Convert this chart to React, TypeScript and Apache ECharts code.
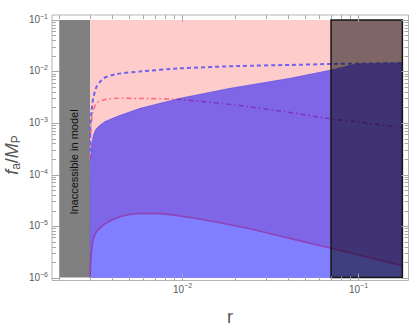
import React, { useEffect, useRef } from 'react';
import * as echarts from 'echarts';

// ---- Regions (r on x, f_a/M_P on y) ----
const inaccessibleR = [0.002, 0.003];
const boxR = [0.07, 0.178];
const modelR = [0.003, 0.178];
const fBottom = 1e-6;
const fTop = 0.1;

// Upper boundary of the blue (allowed) region
const upperR = [0.003, 0.003, 0.00301, 0.00305, 0.00313, 0.00323, 0.00341, 0.00364, 0.00424, 0.00575, 0.0097, 0.0187, 0.0409, 0.07, 0.0983, 0.178];
const upperF = [1e-6, 8e-5, 1.9e-4, 3.7e-4, 5.9e-4, 7.6e-4, 9.1e-4, 1.07e-3, 1.33e-3, 1.93e-3, 3.02e-3, 4.72e-3, 7.38e-3, 1.07e-2, 1.41e-2, 1.46e-2];

// Dashed blue curve
const dashedR = [0.003, 0.003, 0.003055, 0.00312, 0.00326, 0.00356, 0.00424, 0.00575, 0.0097, 0.0213, 0.0409, 0.07, 0.178];
const dashedF = [2.8e-4, 7.3e-4, 1.79e-3, 3.02e-3, 5.07e-3, 7.38e-3, 8.93e-3, 1.0e-2, 1.15e-2, 1.28e-2, 1.34e-2, 1.4e-2, 1.46e-2];

// Red dot-dashed curve
const redR = [0.003, 0.00302, 0.003055, 0.00312, 0.00326, 0.00356, 0.00424, 0.00575, 0.0097, 0.0199, 0.0409, 0.07, 0.1023, 0.178];
const redF = [2e-4, 6e-4, 1.14e-3, 1.79e-3, 2.42e-3, 2.8e-3, 3.02e-3, 3.0e-3, 2.86e-3, 2.24e-3, 1.6e-3, 1.2e-3, 1.04e-3, 8.1e-4];

// Purple solid curve (top of the light-blue region)
const purpleR = [0.003, 0.00301, 0.003055, 0.00312, 0.00326, 0.00356, 0.00388, 0.00424, 0.00472, 0.0055, 0.0068, 0.0082, 0.0097, 0.01345, 0.0187, 0.0259, 0.0359, 0.07, 0.0983, 0.178];
const purpleF = [1e-6, 1.6e-6, 3.4e-6, 5.6e-6, 7.75e-6, 1.04e-5, 1.25e-5, 1.43e-5, 1.6e-5, 1.74e-5, 1.76e-5, 1.7e-5, 1.56e-5, 1.31e-5, 1.06e-5, 8.4e-6, 6.4e-6, 3.7e-6, 2.8e-6, 1.7e-6];

// ---- Ticks ----
const xMajorTicks = [0.01, 0.1];
const xMajorExps = ['−2', '−1'];
const yMajorTicks = [1e-6, 1e-5, 1e-4, 1e-3, 1e-2, 1e-1];
const yMajorExps = ['−6', '−5', '−4', '−3', '−2', '−1'];
const minorMantissas = [2, 3, 4, 5, 6, 7, 8, 9];
const xMinorDecades = [0.001, 0.01];
const yMinorDecades = [1e-6, 1e-5, 1e-4, 1e-3, 1e-2];

// axis extents (include frame padding)
const X_MIN = Math.pow(10, -2.74);
const X_MAX = Math.pow(10, -0.7148);
const Y_MIN = Math.pow(10, -6.058);
const Y_MAX = Math.pow(10, -0.903);

const FONT = '"Liberation Sans", Arial, sans-serif';
const TICK = '#a8a8a8';
const LABEL = '#5a5a5a';

const pairs = (rs: number[], fs: number[]) => rs.map((r, i) => [r, fs[i]]);

function polygonSeries(name: string, pts: number[][], style: any, z: number) {
  return {
    type: 'custom',
    name,
    coordinateSystem: 'cartesian2d',
    silent: true,
    z,
    data: pts,
    encode: { x: 0, y: 1 },
    renderItem: (params: any, api: any) => {
      if (params.dataIndex !== 0) return null;
      return { type: 'polygon', shape: { points: pts.map((p) => api.coord(p)) }, style };
    },
  };
}

const supRich = {
  b: { fontSize: 10, lineHeight: 14, fontFamily: FONT, fill: LABEL },
  s: { fontSize: 7, lineHeight: 7, verticalAlign: 'top', fontFamily: FONT, fill: LABEL },
};

export default function App() {
  const ref = useRef<HTMLDivElement>(null);
  useEffect(() => {
    document.body.style.margin = '0';
    const chart = echarts.init(ref.current!, null, { renderer: 'svg' });

    const xTicks: { v: number; label?: string }[] = [];
    xMinorDecades.forEach((d) => minorMantissas.forEach((m) => {
      const v = m * d;
      if (v >= X_MIN && v <= X_MAX) xTicks.push({ v });
    }));
    xMajorTicks.forEach((v, i) => xTicks.push({ v, label: '{b|10}{s|' + xMajorExps[i] + '}' }));

    const yTicks: { v: number; label?: string }[] = [];
    yMinorDecades.forEach((d) => minorMantissas.forEach((m) => {
      const v = m * d;
      if (v >= Y_MIN && v <= Y_MAX) yTicks.push({ v });
    }));
    yMajorTicks.forEach((v, i) => yTicks.push({ v, label: '{b|10}{s|' + yMajorExps[i] + '}' }));

    const grayPoly = [[inaccessibleR[0], fBottom], [inaccessibleR[1], fBottom], [inaccessibleR[1], fTop], [inaccessibleR[0], fTop]];
    const purplePts = pairs(purpleR, purpleF);
    const pinkPoly = [[modelR[0], fTop], [modelR[1], fTop], ...purplePts.slice().reverse()];
    const upperPts = pairs(upperR, upperF);
    const bluePoly = [[modelR[0], fBottom], ...upperPts, [modelR[1], fBottom]];
    const boxPoly = [[boxR[0], fBottom], [boxR[1], fBottom], [boxR[1], fTop], [boxR[0], fTop]];

    const option: any = {
      animation: false,
      grid: {
        left: 52, top: 15, width: 356.5, height: 265.5,
        show: true, borderColor: '#b4b4b4', borderWidth: 1, backgroundColor: 'transparent',
      },
      xAxis: {
        type: 'log', logBase: 10, min: X_MIN, max: X_MAX,
        axisLine: { show: false }, axisTick: { show: false }, axisLabel: { show: false }, splitLine: { show: false },
      },
      yAxis: {
        type: 'log', logBase: 10, min: Y_MIN, max: Y_MAX,
        axisLine: { show: false }, axisTick: { show: false }, axisLabel: { show: false }, splitLine: { show: false },
      },
      series: [
        polygonSeries('inaccessible', grayPoly, { fill: '#808080' }, 1),
        polygonSeries('excluded', pinkPoly, { fill: '#ffcccc' }, 1),
        {
          type: 'line', name: 'red', z: 2, silent: true, showSymbol: false, smooth: 0.2,
          data: pairs(redR, redF),
          lineStyle: { color: '#ff6a78', width: 1.6, type: [5, 3, 1.5, 3] },
        },
        polygonSeries('allowed', bluePoly, { fill: 'rgba(0,0,255,0.5)', stroke: 'rgba(70,60,230,0.6)', lineWidth: 0.8 }, 3),
        {
          type: 'line', name: 'purple', z: 4, silent: true, showSymbol: false, smooth: 0.25,
          data: purplePts,
          lineStyle: { color: '#8e44b8', width: 1.6 },
        },
        {
          type: 'line', name: 'dashed', z: 5, silent: true, showSymbol: false, smooth: 0.2,
          data: pairs(dashedR, dashedF),
          lineStyle: { color: '#6f63ee', width: 2, type: [4, 3] },
        },
        polygonSeries('box', boxPoly, { fill: 'rgba(0,0,0,0.5)', stroke: '#151515', lineWidth: 1.5 }, 6),
        {
          type: 'custom', name: 'xticks', z: 10, silent: true, coordinateSystem: 'cartesian2d',
          data: xTicks.map((t) => [t.v, 1e-3]),
          encode: { x: 0, y: 1 },
          renderItem: (params: any, api: any) => {
            const t = xTicks[params.dataIndex];
            const cs = params.coordSys;
            const x = Math.round(api.coord([t.v, 1e-3])[0]) + 0.5;
            const len = t.label ? 7 : 4;
            const bottom = cs.y + cs.height;
            const children: any[] = [
              { type: 'line', shape: { x1: x, y1: bottom, x2: x, y2: bottom - len }, style: { stroke: TICK, lineWidth: 1 } },
              { type: 'line', shape: { x1: x, y1: cs.y, x2: x, y2: cs.y + len }, style: { stroke: TICK, lineWidth: 1 } },
            ];
            if (t.label) {
              children.push({
                type: 'text', x, y: bottom + 1.5,
                style: { text: t.label, rich: supRich, align: 'center', verticalAlign: 'top', fontFamily: FONT, fill: LABEL },
              });
            }
            return { type: 'group', children };
          },
        },
        {
          type: 'custom', name: 'yticks', z: 10, silent: true, coordinateSystem: 'cartesian2d',
          data: yTicks.map((t) => [0.01, t.v]),
          encode: { x: 0, y: 1 },
          renderItem: (params: any, api: any) => {
            const t = yTicks[params.dataIndex];
            const cs = params.coordSys;
            const y = Math.round(api.coord([0.01, t.v])[1]) + 0.5;
            const len = t.label ? 7 : 4;
            const right = cs.x + cs.width;
            const children: any[] = [
              { type: 'line', shape: { x1: cs.x, y1: y, x2: cs.x + len, y2: y }, style: { stroke: TICK, lineWidth: 1 } },
              { type: 'line', shape: { x1: right, y1: y, x2: right - len, y2: y }, style: { stroke: TICK, lineWidth: 1 } },
            ];
            if (t.label) {
              children.push({
                type: 'text', x: cs.x - 4, y: y - 1,
                style: { text: t.label, rich: supRich, align: 'right', verticalAlign: 'middle', fontFamily: FONT, fill: LABEL },
              });
            }
            return { type: 'group', children };
          },
        },
      ],
      graphic: [
        {
          type: 'text', x: 73.5, y: 162, rotation: Math.PI / 2, z: 20,
          style: { text: 'Inaccessible in model', fontSize: 11, fontFamily: FONT, fill: '#111', align: 'center', verticalAlign: 'middle' },
        },
        {
          type: 'text', x: 230, y: 317, z: 20,
          style: { text: 'r', fontSize: 18, fontFamily: FONT, fill: '#555', align: 'center', verticalAlign: 'middle' },
        },
        {
          type: 'text', x: 12, y: 155, rotation: Math.PI / 2, z: 20,
          style: {
            text: '{i|f}{s|a}{n|/}{i|M}{s|P}',
            align: 'center', verticalAlign: 'middle', fontFamily: FONT, fill: '#555',
            rich: {
              i: { fontSize: 18, fontStyle: 'italic', lineHeight: 20, fontFamily: FONT, fill: '#555' },
              n: { fontSize: 18, lineHeight: 20, fontFamily: FONT, fill: '#555' },
              s: { fontSize: 12, lineHeight: 13, verticalAlign: 'bottom', fontFamily: FONT, fill: '#555' },
            },
          },
        },
      ],
    };
    chart.setOption(option);
    return () => chart.dispose();
  }, []);
  return <div ref={ref} style={{ width: 415, height: 326 }} />;
}
